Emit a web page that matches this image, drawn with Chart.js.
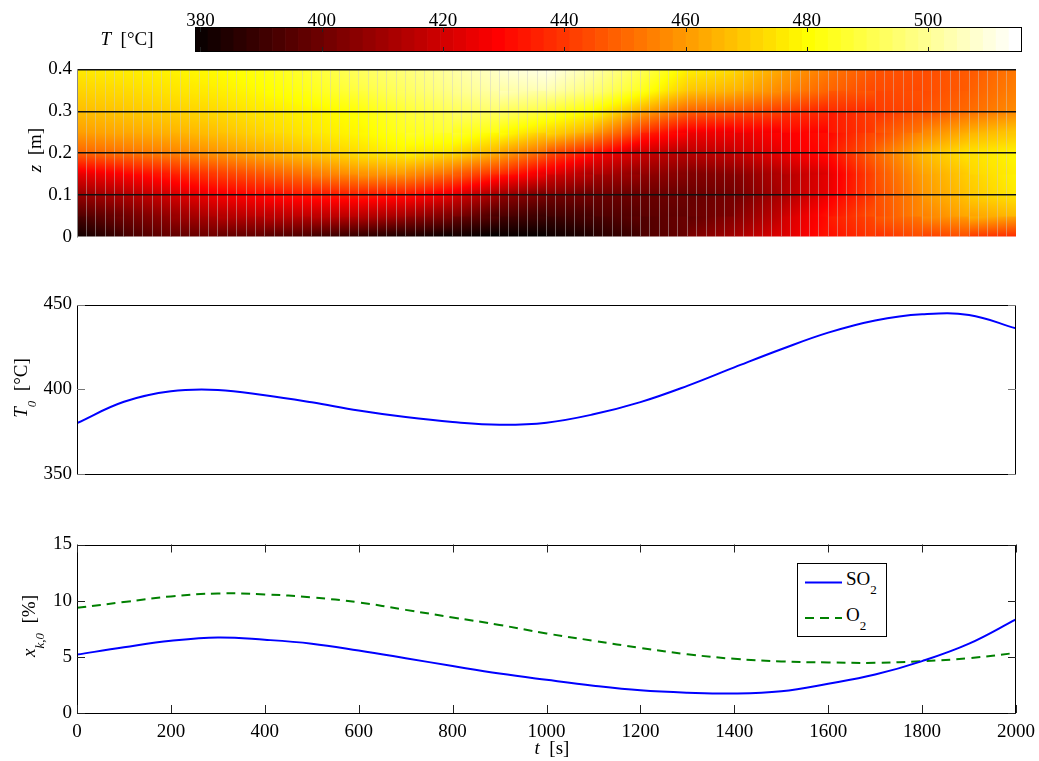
<!DOCTYPE html>
<html lang="es">
<head>
<meta charset="utf-8">
<title>Temperatura del lecho y composición de entrada</title>
<script src="https://cdn.jsdelivr.net/npm/chart.js@4.4.1/dist/chart.umd.min.js"></script>
<style>
    body { margin: 0; background: #fff; }
    #lienzo {
        position: relative;
        width: 1039px;
        height: 761px;
        overflow: hidden;
        font-family: 'Liberation Serif', 'Times New Roman', serif;
        font-size: 19px;
        color: #000;
    }
    #lienzo canvas { position: absolute; left: 0; }
    .texto { position: absolute; white-space: nowrap; line-height: 1; }
    .vertical { transform: translate(-50%, -50%) rotate(-90deg); }
    .centrado { transform: translate(-50%, -50%); }
    .sub { font-size: 13px; vertical-align: -9px; }
    #leyenda {
        position: absolute;
        left: 797px;
        top: 563px;
        width: 88px;
        height: 72px;
        border: 1px solid #000;
        background: #fff;
    }
</style>
</head>
<body>
<div id="lienzo">
    <canvas id="barraColor" width="1039" height="60" style="top:0px"></canvas>
    <canvas id="mapaTemperatura" width="1039" height="200" style="top:55px"></canvas>
    <canvas id="graficoEntrada" width="1039" height="200" style="top:290px"></canvas>
    <canvas id="graficoFracciones" width="1039" height="231" style="top:530px"></canvas>

    <div class="texto centrado" style="left:127px; top:38px"><i>T</i>&nbsp;&nbsp;[°C]</div>
    <div class="texto vertical" style="left:34px; top:150px"><i>z</i>&nbsp;&nbsp;[m]</div>
    <div class="texto vertical" style="left:24px; top:388px"><i>T</i><span class="sub"><i>0</i></span>&nbsp;&nbsp;[°C]</div>
    <div class="texto vertical" style="left:32px; top:626px"><i>x</i><span class="sub"><i>k,0</i></span>&nbsp;&nbsp;[%]</div>
    <div class="texto centrado" style="left:552px; top:747px"><i>t</i>&nbsp;&nbsp;[s]</div>

    <div id="leyenda"></div>
</div>

<script>
// Tiempo de simulación [s]
const tiempos = [0, 100, 200, 300, 400, 500, 600, 700, 800, 900, 1000,
    1100, 1200, 1300, 1400, 1500, 1600, 1700, 1800, 1900, 2000];

// Temperatura de entrada T0 [°C]
const temperaturaEntrada = [380.0, 392.6, 398.8, 399.6, 396.5, 392.3, 387.5, 383.6, 380.7, 379.1, 380.3,
    385.2, 392.4, 402.0, 412.9, 423.6, 433.4, 440.6, 444.2, 443.8, 435.9];

// Fracciones molares de entrada [%]
const fraccionSO2 = [5.20, 5.85, 6.43, 6.73, 6.52, 6.17, 5.56, 4.88, 4.18, 3.51, 2.95,
    2.43, 2.02, 1.81, 1.73, 1.93, 2.60, 3.42, 4.62, 6.17, 8.33];
const fraccionO2 = [9.36, 9.88, 10.38, 10.64, 10.56, 10.29, 9.85, 9.18, 8.51, 7.84, 7.08,
    6.43, 5.79, 5.23, 4.82, 4.59, 4.50, 4.47, 4.62, 4.88, 5.35];
const nombresSeries = ['SO2', 'O2'];

// Alturas del lecho [m] donde se leyó la temperatura
const alturas = [0, 0.05, 0.1, 0.15, 0.2, 0.25, 0.3, 0.35, 0.4];

// Temperatura del lecho [°C] en cada altura (z = 0 es la entrada)
const temperaturaZ005 = [395, 401, 409, 415, 417, 417, 417, 411, 403, 394, 391,
    394, 397, 399, 405, 419, 434, 446, 456, 464, 466];
const temperaturaZ010 = [409, 414, 421, 428, 432, 435, 435, 434, 425, 409, 403,
    401, 400, 401, 402, 413, 427, 444, 460, 470, 477];
const temperaturaZ015 = [425, 430, 436, 442, 448, 454, 460, 460, 450, 438, 425,
    413, 409, 405, 406, 415, 424, 446, 462, 472, 479];
const temperaturaZ020 = [450, 453, 456, 460, 465, 470, 475, 479, 474, 465, 448,
    432, 419, 416, 419, 426, 433, 450, 468, 476, 479];
const temperaturaZ025 = [462, 464, 466, 469, 473, 477, 480, 485, 488, 481, 474,
    464, 440, 428, 427, 430, 432, 444, 456, 466, 470];
const temperaturaZ030 = [468, 470, 472, 474, 477, 479, 482, 489, 493, 496, 488,
    481, 465, 450, 447, 442, 437, 441, 446, 452, 458];
const temperaturaZ035 = [473, 474, 476, 478, 481, 485, 490, 494, 500, 504, 505,
    497, 486, 470, 466, 458, 450, 445, 445, 449, 456];
const temperaturaZ040 = [477, 478, 479, 481, 484, 489, 494, 498, 503, 509, 513,
    504, 493, 479, 474, 463, 455, 447, 446, 448, 454];

// Marcas de los ejes
const marcasTiempo = [0, 200, 400, 600, 800, 1000, 1200, 1400, 1600, 1800, 2000];
const marcasAltura = [0, 0.1, 0.2, 0.3, 0.4];
const marcasEntrada = [350, 400, 450];
const marcasFraccion = [0, 5, 10, 15];
const marcasColor = [380, 400, 420, 440, 460, 480, 500];

// Rango de la escala de colores [°C]
const limitesColor = [379.1, 515.5];

const mallaTemperatura = [temperaturaEntrada, temperaturaZ005, temperaturaZ010, temperaturaZ015,
    temperaturaZ020, temperaturaZ025, temperaturaZ030, temperaturaZ035, temperaturaZ040];

const graficos = {};

/**
 * Dibuja el marco del área de datos y las marcas hacia adentro (estilo MATLAB)
 */
const pluginMarco = {
    id: 'marco',
    afterDraw(chart, args, opciones) {
        const { ctx, chartArea: area } = chart;
        ctx.save();
        if (opciones.mostrar) {
            ctx.strokeStyle = '#000';
            ctx.lineWidth = 1;
            ctx.strokeRect(Math.round(area.left) + 0.5, Math.round(area.top) + 0.5,
                Math.round(area.right - area.left) - 1, Math.round(area.bottom - area.top) - 1);
        }
        const largo = opciones.largo || 8;
        ctx.strokeStyle = opciones.colorMarcas || '#333';
        ctx.lineWidth = 1;
        ctx.beginPath();
        (opciones.marcasX || []).forEach(v => {
            const px = Math.round(chart.scales.x.getPixelForValue(v)) + 0.5;
            ctx.moveTo(px, area.bottom);
            ctx.lineTo(px, area.bottom - largo);
            ctx.moveTo(px, area.top);
            ctx.lineTo(px, area.top + largo);
        });
        (opciones.marcasY || []).forEach(v => {
            const py = Math.round(chart.scales.y.getPixelForValue(v)) + 0.5;
            ctx.moveTo(area.left, py);
            ctx.lineTo(area.left + largo, py);
            ctx.moveTo(area.right, py);
            ctx.lineTo(area.right - largo, py);
        });
        ctx.stroke();
        ctx.restore();
    }
};

/**
 * Mapa de colores "hot" (negro - rojo - amarillo - blanco) de 64 niveles
 * @param {number} p - posición continua 0..64
 */
function colorHot(p) {
    const r = Math.min(1, Math.max(0, p / 24));
    const g = Math.min(1, Math.max(0, (p - 24) / 24));
    const b = Math.min(1, Math.max(0, (p - 48) / 16));
    return `rgb(${Math.round(r * 255)}, ${Math.round(g * 255)}, ${Math.round(b * 255)})`;
}

function colorMapa(temp) {
    const f = (temp - limitesColor[0]) / (limitesColor[1] - limitesColor[0]);
    return colorHot(Math.min(1, Math.max(0, f)) * 64);
}

/**
 * Color de una celda: degradado lineal ajustado a las cuatro esquinas
 */
function colorCelda(contexto) {
    const chart = contexto.chart;
    const celda = contexto.raw;
    const ejeX = chart.scales.x;
    const ejeY = chart.scales.y;
    if (!celda || !ejeX || !ejeY || !chart.chartArea) {
        return '#800000';
    }
    const i = celda.i;
    const j = celda.j;
    const a = mallaTemperatura[j][i];
    const b = mallaTemperatura[j][i + 1];
    const c = mallaTemperatura[j + 1][i];
    const d = mallaTemperatura[j + 1][i + 1];
    const x0 = ejeX.getPixelForValue(tiempos[i]);
    const x1 = ejeX.getPixelForValue(tiempos[i + 1]);
    const y0 = ejeY.getPixelForValue(alturas[j]);
    const y1 = ejeY.getPixelForValue(alturas[j + 1]);
    const gx = ((b - a) + (d - c)) / 2 / (x1 - x0);
    const gy = ((c - a) + (d - b)) / 2 / (y1 - y0);
    const media = (a + b + c + d) / 4;
    const norma = Math.hypot(gx, gy);
    if (norma < 1e-6) {
        return colorMapa(media);
    }
    const ux = gx / norma;
    const uy = gy / norma;
    const k = (Math.abs(ux) * Math.abs(x1 - x0) + Math.abs(uy) * Math.abs(y1 - y0)) / 2;
    const cx = (x0 + x1) / 2;
    const cy = (y0 + y1) / 2;
    const degradado = chart.ctx.createLinearGradient(cx - ux * k, cy - uy * k, cx + ux * k, cy + uy * k);
    const tIni = media - norma * k;
    const tFin = media + norma * k;
    for (let n = 0; n <= 12; n++) {
        const s = n / 12;
        degradado.addColorStop(s, colorMapa(tIni + s * (tFin - tIni)));
    }
    return degradado;
}

function construirCeldas() {
    const celdas = [];
    for (let j = 0; j < alturas.length - 1; j++) {
        for (let i = 0; i < tiempos.length - 1; i++) {
            celdas.push({
                x: (tiempos[i] + tiempos[i + 1]) / 2,
                y: [alturas[j], alturas[j + 1]],
                i: i,
                j: j
            });
        }
    }
    return celdas;
}

function opcionesBase(relleno) {
    return {
        responsive: false,
        animation: false,
        devicePixelRatio: 1,
        events: [],
        layout: { padding: relleno },
        plugins: {
            legend: { display: false },
            tooltip: { enabled: false }
        }
    };
}

const fuenteMarcas = { family: "'Liberation Serif', 'Times New Roman', serif", size: 19, lineHeight: 1 };

function ejeY(min, max, marcas, formato) {
    return {
        type: 'linear',
        min: min,
        max: max,
        afterBuildTicks: function (eje) {
            eje.ticks = marcas.map(v => ({ value: v }));
        },
        afterFit: function (eje) {
            eje.width = 77;
        },
        ticks: {
            font: fuenteMarcas,
            color: '#000',
            padding: 5,
            callback: formato || (v => String(v))
        },
        grid: { display: false, drawTicks: false },
        border: { display: false }
    };
}

function ejeTiempoOculto() {
    return {
        type: 'linear',
        min: 0,
        max: 2000,
        offset: false,
        afterBuildTicks: function (eje) {
            eje.ticks = marcasTiempo.map(v => ({ value: v }));
        },
        afterFit: function (eje) {
            eje.height = 0;
        },
        ticks: { display: false },
        grid: { display: false, drawTicks: false, offset: false },
        border: { display: false }
    };
}

/**
 * Barra de colores superior
 */
function crearBarraColor() {
    const paso = (limitesColor[1] - limitesColor[0]) / 64;
    const niveles = [];
    const colores = [];
    for (let k = 0; k < 64; k++) {
        niveles.push({ x: limitesColor[0] + (k + 0.5) * paso, y: [0, 1] });
        colores.push(colorHot(k + 1));
    }
    const opciones = opcionesBase({ left: 195, right: 17, top: 0, bottom: 8 });
    opciones.scales = {
        x: {
            type: 'linear',
            position: 'top',
            min: limitesColor[0],
            max: limitesColor[1],
            offset: false,
            afterBuildTicks: function (eje) {
                eje.ticks = marcasColor.map(v => ({ value: v }));
            },
            afterFit: function (eje) {
                eje.height = 27;
                eje.paddingLeft = 0;
                eje.paddingRight = 0;
            },
            ticks: { font: fuenteMarcas, color: '#000', padding: -4, maxRotation: 0, callback: v => String(v) },
            grid: { display: false, drawTicks: false, offset: false },
            border: { display: false }
        },
        y: { display: false, min: 0, max: 1 }
    };
    opciones.plugins.marco = { mostrar: true, marcasX: marcasColor, largo: 5, colorMarcas: '#222' };

    new Chart(document.getElementById('barraColor'), {
        type: 'bar',
        data: {
            datasets: [{
                data: niveles,
                backgroundColor: colores,
                borderWidth: 0,
                barPercentage: 1,
                categoryPercentage: 1
            }]
        },
        options: opciones,
        plugins: [pluginMarco]
    });
}

/**
 * Mapa de temperatura del lecho T(t, z)
 */
function crearMapaTemperatura() {
    const opciones = opcionesBase({ left: 0, right: 23, top: 11, bottom: 18 });
    const ejeAltura = ejeY(0, 0.4, marcasAltura, v => (v === 0 ? '0' : v.toFixed(1)));
    ejeAltura.grid = {
        display: true,
        drawTicks: false,
        z: 2,
        lineWidth: 1.6,
        color: ctx => (ctx.tick && ctx.tick.value === 0 ? 'rgba(0,0,0,0)' : '#111')
    };
    ejeAltura.border = { display: true, color: '#888', width: 1, z: 2 };

    opciones.scales = {
        x: ejeTiempoOculto(),
        malla: {
            type: 'linear',
            axis: 'x',
            position: 'bottom',
            min: 0,
            max: 2000,
            offset: false,
            afterBuildTicks: function (eje) {
                const lineas = [];
                for (let t = 20; t < 2000; t += 20) {
                    lineas.push({ value: t });
                }
                eje.ticks = lineas;
            },
            afterFit: function (eje) {
                eje.height = 0;
            },
            ticks: { display: false, autoSkip: false },
            grid: { color: 'rgba(205, 205, 205, 0.45)', lineWidth: 1, drawTicks: false, offset: false, z: 1 },
            border: { display: false }
        },
        y: ejeAltura
    };
    opciones.plugins.marco = { mostrar: false };

    new Chart(document.getElementById('mapaTemperatura'), {
        type: 'bar',
        data: {
            datasets: [{
                data: construirCeldas(),
                backgroundColor: colorCelda,
                borderWidth: 0,
                barPercentage: 1,
                categoryPercentage: 1
            }]
        },
        options: opciones,
        plugins: [pluginMarco]
    });
}

/**
 * Temperatura de entrada T0(t)
 */
function crearGraficoEntrada() {
    const opciones = opcionesBase({ left: 0, right: 23, top: 13, bottom: 16 });
    opciones.scales = {
        x: ejeTiempoOculto(),
        y: ejeY(350, 450, marcasEntrada)
    };
    opciones.plugins.marco = { mostrar: true, marcasY: marcasEntrada, largo: 8, colorMarcas: '#777' };

    new Chart(document.getElementById('graficoEntrada'), {
        type: 'line',
        data: {
            datasets: [{
                data: tiempos.map((t, k) => ({ x: t, y: temperaturaEntrada[k] })),
                borderColor: '#0000ff',
                borderWidth: 2,
                pointRadius: 0,
                tension: 0.4,
                fill: false
            }]
        },
        options: opciones,
        plugins: [pluginMarco]
    });
}

/**
 * Fracciones molares de entrada de SO2 y O2
 */
function crearGraficoFracciones() {
    const opciones = opcionesBase({ left: 0, right: 23, top: 12, bottom: 18 });
    const ejeTiempo = ejeTiempoOculto();
    ejeTiempo.ticks = {
        display: true,
        font: fuenteMarcas,
        color: '#000',
        padding: 10,
        maxRotation: 0,
        autoSkip: false,
        callback: v => String(v)
    };
    ejeTiempo.afterFit = function (eje) {
        eje.height = 30;
        eje.paddingLeft = 0;
        eje.paddingRight = 0;
    };
    opciones.scales = {
        x: ejeTiempo,
        y: ejeY(0, 15, marcasFraccion)
    };
    opciones.plugins.marco = { mostrar: true, marcasX: marcasTiempo, marcasY: marcasFraccion, largo: 8, colorMarcas: '#222' };

    graficos.fracciones = new Chart(document.getElementById('graficoFracciones'), {
        type: 'line',
        data: {
            datasets: [{
                label: nombresSeries[0],
                data: tiempos.map((t, k) => ({ x: t, y: fraccionSO2[k] })),
                borderColor: '#0000ff',
                borderWidth: 2,
                pointRadius: 0,
                tension: 0.4,
                fill: false
            }, {
                label: nombresSeries[1],
                data: tiempos.map((t, k) => ({ x: t, y: fraccionO2[k] })),
                borderColor: '#008000',
                borderWidth: 2,
                borderDash: [9, 6],
                pointRadius: 0,
                tension: 0.4,
                fill: false
            }]
        },
        options: opciones,
        plugins: [pluginMarco]
    });
}

/**
 * Leyenda dentro del panel inferior, con subíndices
 */
function construirLeyenda() {
    const leyenda = document.getElementById('leyenda');
    const posiciones = [{ linea: 18.5, texto: 5 }, { linea: 54, texto: 41 }];
    let svg = '<svg width="88" height="72" style="position:absolute;left:0;top:0">';
    let textos = '';
    graficos.fracciones.data.datasets.forEach((serie, k) => {
        const guion = serie.borderDash ? ` stroke-dasharray="${serie.borderDash.join(' ')}"` : '';
        svg += `<line x1="7" y1="${posiciones[k].linea}" x2="44" y2="${posiciones[k].linea}" stroke="${serie.borderColor}" stroke-width="2"${guion}/>`;
        const etiqueta = serie.label.replace(/(\d+)/g, '<span class="sub">$1</span>');
        textos += `<div class="texto" style="left:48px; top:${posiciones[k].texto}px">${etiqueta}</div>`;
    });
    svg += '</svg>';
    leyenda.innerHTML = svg + textos;
}

document.addEventListener('DOMContentLoaded', function () {
    Chart.defaults.font.family = "'Liberation Serif', 'Times New Roman', serif";
    Chart.defaults.font.size = 19;
    Chart.defaults.color = '#000';
    crearBarraColor();
    crearMapaTemperatura();
    crearGraficoEntrada();
    crearGraficoFracciones();
    construirLeyenda();
});
</script>
</body>
</html>
